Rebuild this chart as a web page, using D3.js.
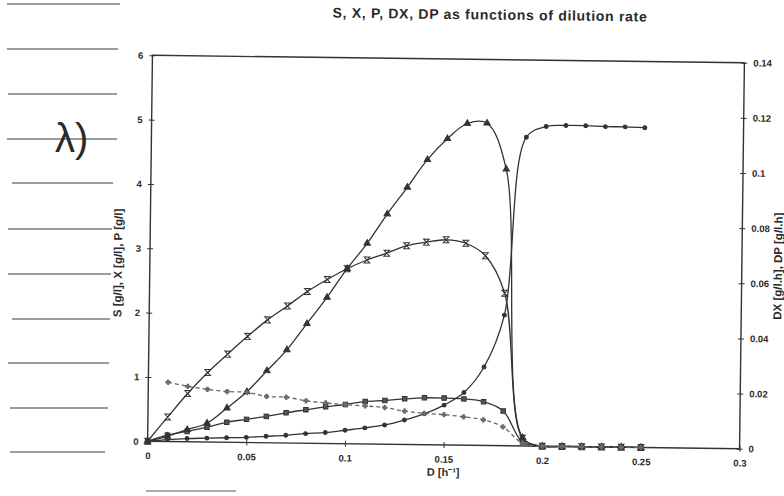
<!DOCTYPE html>
<html>
<head>
<meta charset="utf-8">
<script src="https://cdn.jsdelivr.net/npm/d3@7"></script>
<style>
  body { margin: 0; background: #fff; }
  svg { display: block; }
  text { font-family: "Liberation Sans", Arial, sans-serif; fill: #2a2a2a; }
</style>
</head>
<body>
<svg id="chart"></svg>
<script>
const width = 784;
const height = 496;

// dilution rate D [1/h]
const dilution = [0, 0.01, 0.02, 0.03, 0.04, 0.05, 0.06, 0.07, 0.08, 0.09, 0.1, 0.11, 0.12,
  0.13, 0.14, 0.15, 0.16, 0.17, 0.18, 0.19, 0.2, 0.21, 0.22, 0.23, 0.24, 0.25];

// left axis [g/l]
const substrateS = [0, 0.03, 0.05, 0.06, 0.07, 0.08, 0.1, 0.12, 0.15, 0.17, 0.21, 0.25, 0.3,
  0.38, 0.48, 0.62, 0.82, 1.22, 2.03, 4.8, 4.97, 4.99, 4.99, 4.98, 4.98, 4.97];
const biomassX = [0, 0.38, 0.75, 1.08, 1.37, 1.65, 1.91, 2.13, 2.36, 2.55, 2.72, 2.86, 2.97,
  3.09, 3.15, 3.19, 3.14, 2.95, 2.37, 0.12, 0, 0, 0, 0, 0, 0];
const productP = [0, 0.1, 0.16, 0.23, 0.31, 0.36, 0.41, 0.47, 0.52, 0.57, 0.61, 0.66, 0.68,
  0.71, 0.73, 0.73, 0.72, 0.68, 0.54, 0.06, 0, 0, 0, 0, 0, 0];

// right axis [g/l.h]
const productivityDX = [0, 0.0019, 0.0044, 0.0068, 0.0124, 0.0184, 0.0261, 0.0338, 0.0434, 0.053,
  0.0635, 0.0728, 0.0835, 0.0933, 0.1034, 0.1111, 0.1167, 0.1169, 0.1003, 0.003, 0, 0, 0, 0, 0, 0];
const productivityDP = [null, 0.0215, 0.0201, 0.0191, 0.0184, 0.0182, 0.0168, 0.0166, 0.0154, 0.0147,
  0.0142, 0.0138, 0.0133, 0.0121, 0.0114, 0.011, 0.0103, 0.0093, 0.0068, 0.001, 0, 0, 0, 0, 0, 0];

const xTicks = [0, 0.05, 0.1, 0.15, 0.2, 0.25, 0.3];
const leftTicks = [0, 1, 2, 3, 4, 5, 6];
const rightTicks = [0, 0.02, 0.04, 0.06, 0.08, 0.1, 0.12, 0.14];

const titleText = "S, X, P, DX, DP as functions of dilution rate";
const xLabel = "D [h\u207B\u00B9]";
const leftLabel = "S [g/l], X [g/l], P [g/l]";
const rightLabel = "DX [g/l.h], DP [g/l.h]";

const plot = { left: 150, right: 742, top: 59, bottom: 445 };
const ink = "#333";

const svg = d3.select("#chart").attr("width", width).attr("height", height);
svg.append("rect").attr("width", width).attr("height", height).attr("fill", "#fff");

// notebook lines on the left margin of the scan
const marginLines = [[7, 120, 4], [7, 118, 49], [8, 117, 94], [7, 117, 139], [12, 113, 183],
  [8, 112, 229], [8, 111, 274], [12, 110, 319], [8, 109, 363], [10, 108, 408], [10, 105, 452]];
svg.append("g")
  .selectAll("line")
  .data(marginLines)
  .join("line")
  .attr("x1", d => d[0]).attr("x2", d => d[1])
  .attr("y1", d => d[2]).attr("y2", d => d[2])
  .attr("stroke", "#3a3a3a").attr("stroke-width", 1.2);
svg.append("text")
  .attr("x", 55).attr("y", 152)
  .attr("font-family", "DejaVu Serif")
  .attr("font-size", 40)
  .attr("fill", "#444")
  .text("λ)");
svg.append("line")
  .attr("x1", 146).attr("x2", 236).attr("y1", 491).attr("y2", 491)
  .attr("stroke", "#555").attr("stroke-width", 1.2);

// the scan is slightly rotated
const cx = (plot.left + plot.right) / 2;
const cy = (plot.top + plot.bottom) / 2;
const chart = svg.append("g").attr("transform", `rotate(0.72, ${cx}, ${cy})`);

const x = d3.scaleLinear().domain([0, 0.3]).range([plot.left, plot.right]);
const yLeft = d3.scaleLinear().domain([0, 6]).range([plot.bottom, plot.top]);
const yRight = d3.scaleLinear().domain([0, 0.14]).range([plot.bottom, plot.top]);

// frame
chart.append("rect")
  .attr("x", plot.left).attr("y", plot.top)
  .attr("width", plot.right - plot.left).attr("height", plot.bottom - plot.top)
  .attr("fill", "none").attr("stroke", ink).attr("stroke-width", 1.4);

const styleAxis = (g, x1, x2, y1, y2) => {
  g.select(".domain").remove();
  g.selectAll(".tick line").attr("stroke", ink).attr("stroke-width", 1)
    .attr("x1", x1).attr("x2", x2).attr("y1", y1).attr("y2", y2);
  g.selectAll(".tick text").attr("font-size", 9.5).attr("font-weight", "bold").attr("fill", "#2a2a2a");
};

chart.append("g")
  .attr("transform", `translate(0, ${plot.bottom})`)
  .call(d3.axisBottom(x).tickValues(xTicks).tickFormat(d => `${d}`).tickSize(3).tickPadding(8))
  .call(g => styleAxis(g, 0, 0, -3, 3));

chart.append("g")
  .attr("transform", `translate(${plot.left}, 0)`)
  .call(d3.axisLeft(yLeft).tickValues(leftTicks).tickFormat(d => `${d}`).tickSize(3).tickPadding(6))
  .call(g => styleAxis(g, -3, 3, 0, 0));

chart.append("g")
  .attr("transform", `translate(${plot.right}, 0)`)
  .call(d3.axisRight(yRight).tickValues(rightTicks).tickFormat(d => `${d}`).tickSize(3).tickPadding(6))
  .call(g => styleAxis(g, -3, 3, 0, 0));

// texts
chart.append("text")
  .attr("x", 487).attr("y", 19)
  .attr("text-anchor", "middle")
  .attr("font-size", 14)
  .attr("letter-spacing", 0.7)
  .attr("font-weight", "bold")
  .text(titleText);
chart.append("text")
  .attr("x", 446).attr("y", 476)
  .attr("text-anchor", "middle")
  .attr("font-size", 11)
  .attr("font-weight", "bold")
  .text(xLabel);
chart.append("text")
  .attr("transform", "translate(122, 267) rotate(-90)")
  .attr("text-anchor", "middle")
  .attr("font-size", 11.5)
  .attr("font-weight", "bold")
  .text(leftLabel);
chart.append("text")
  .attr("transform", "translate(782, 262) rotate(-90)")
  .attr("text-anchor", "middle")
  .attr("font-size", 11.5)
  .attr("font-weight", "bold")
  .text(rightLabel);

// series
const hourglass = "M-2.8,-3L2.8,-3L-2.8,3L2.8,3Z";
const series = [
  { values: substrateS, y: yLeft, marker: d3.symbol(d3.symbolCircle, 12)(), fill: ink, dash: null, color: ink },
  { values: biomassX, y: yLeft, marker: hourglass, fill: "none", dash: null, color: ink },
  { values: productP, y: yLeft, marker: d3.symbol(d3.symbolSquare, 20)(), fill: "#555", dash: null, color: ink },
  { values: productivityDX, y: yRight, marker: d3.symbol(d3.symbolTriangle, 18)(), fill: ink, dash: null, color: ink },
  { values: productivityDP, y: yRight, marker: d3.symbol(d3.symbolCross, 10)(), fill: "#777", dash: "4,3", color: "#666" }
];

series.forEach(s => {
  const points = dilution
    .map((d, i) => ({ d, v: s.values[i] }))
    .filter(p => p.v !== null);
  const line = d3.line()
    .x(p => x(p.d))
    .y(p => s.y(p.v))
    .curve(d3.curveCatmullRom.alpha(0.5));
  const g = chart.append("g");
  g.append("path")
    .datum(points)
    .attr("d", line)
    .attr("fill", "none")
    .attr("stroke", s.color)
    .attr("stroke-width", 1.3)
    .attr("stroke-dasharray", s.dash);
  g.selectAll("path.mark")
    .data(points)
    .join("path")
    .attr("class", "mark")
    .attr("transform", p => `translate(${x(p.d)}, ${s.y(p.v)})`)
    .attr("d", s.marker)
    .attr("fill", s.fill)
    .attr("stroke", s.color)
    .attr("stroke-width", 1);
});
</script>
</body>
</html>
